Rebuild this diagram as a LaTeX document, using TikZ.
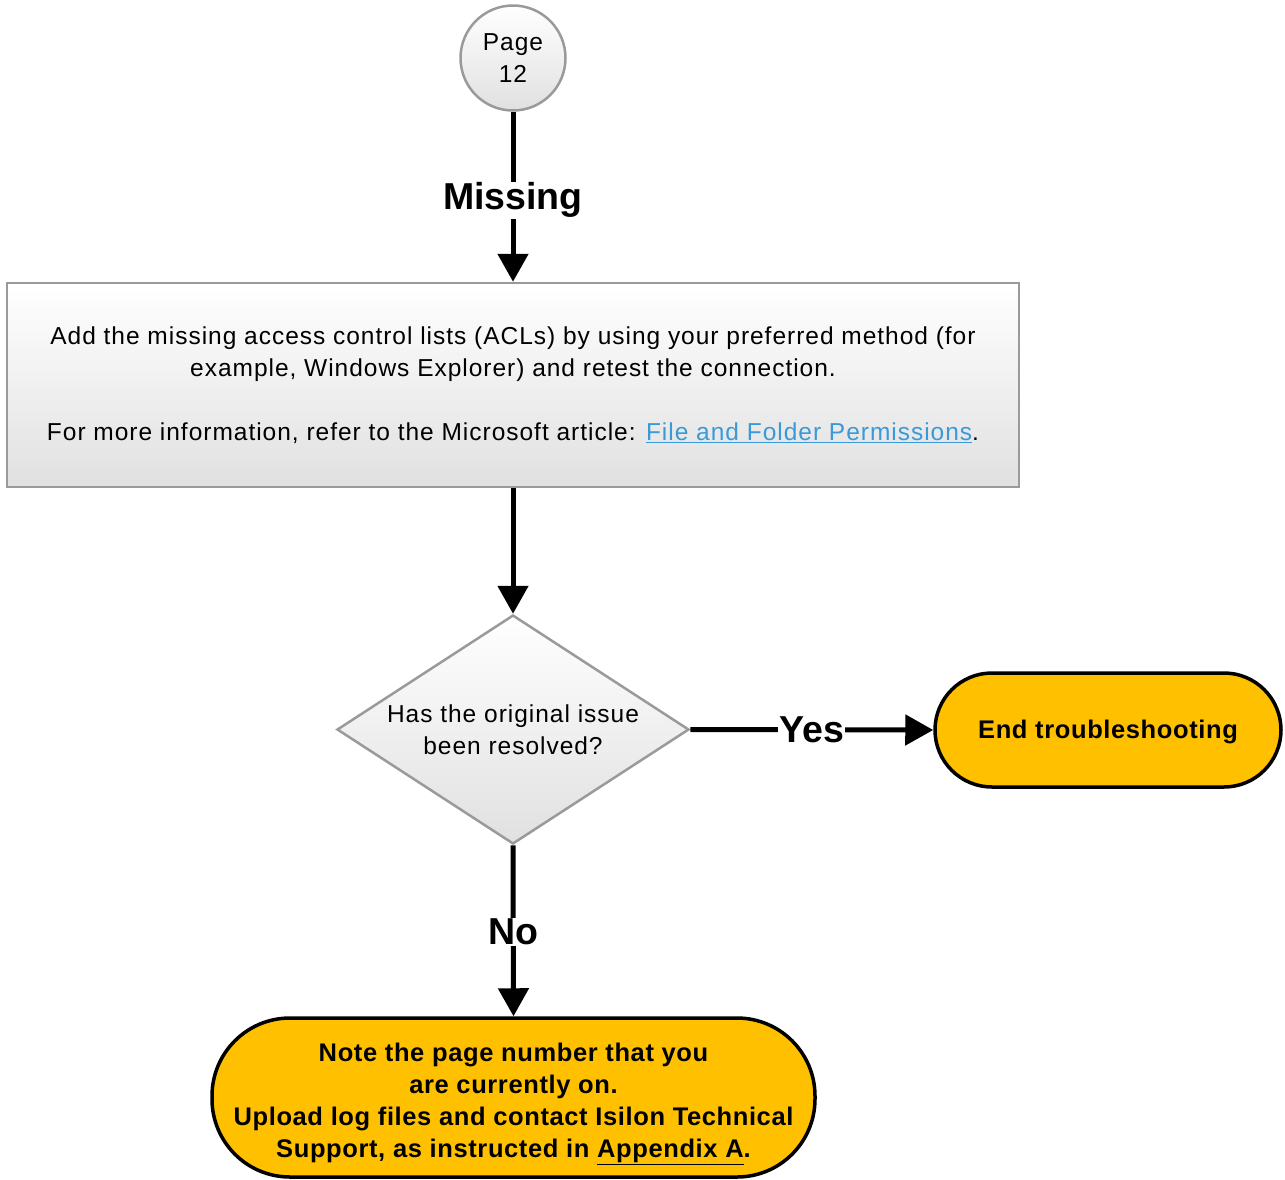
\documentclass[tikz,border=0pt]{standalone}
\usepackage{fontspec}
\setmainfont{Liberation Sans}
\usetikzlibrary{arrows.meta,shapes.geometric}
\definecolor{boxline}{HTML}{9A9A9A}
\definecolor{endfill}{HTML}{FFC000}
\definecolor{linkblue}{HTML}{3A9AD9}
\begin{document}
\begin{tikzpicture}[x=1pt,y=-1pt,
  graybox/.style={draw=boxline, line width=2.5pt, top color=white, bottom color=black!12},
  endbox/.style={draw=black, line width=3.5pt, fill=endfill, rounded corners=#1},
  flow/.style={line width=5pt, -{Triangle[length=28pt,width=30pt]}},
  flowlabel/.style={fill=white, inner sep=1pt, font=\fontsize{37.5}{40}\selectfont\bfseries},
  body/.style={font=\fontsize{24.5}{32}\selectfont\addfontfeature{LetterSpace=4}, align=center},
  boldbody/.style={font=\fontsize{25.5}{32}\selectfont\bfseries\addfontfeature{LetterSpace=2.4}, align=center}]
\useasboundingbox (0,0) rectangle (1285,1179);

% start connector circle
\node[graybox, circle, minimum size=105pt, inner sep=0pt, body] (page) at (513,58) {Page\\12};

% action box
\node[graybox, rectangle, minimum width=1012pt, minimum height=204pt, inner sep=0pt, body] (acl) at (513,385)
  {Add the missing access control lists (ACLs) by using your preferred method (for\\
   example, Windows Explorer) and retest the connection.\\[32pt]
   For more information, refer to the Microsoft article: \textcolor{linkblue}{\underline{File and Folder Permissions}}.};

% decision
\node[graybox, diamond, shape aspect=1.537, minimum width=352pt, minimum height=229pt, inner sep=0pt] (resolved) at (513,729.5) {};
\node[body] (question) at (513,730) {Has the original issue\\been resolved?};

% terminators
\node[endbox=57pt, minimum width=346pt, minimum height=114pt] (done) at (1108,730) {};
\node[boldbody] (donetext) at (1108,732) {End troubleshooting};
\node[endbox=78pt, minimum width=603pt, minimum height=159pt] (support) at (513.5,1097.5) {};
\node[boldbody] (supporttext) at (513.5,1104)
  {Note the page number that you\\
   are currently on.\\
   Upload log files and contact Isilon Technical\\
   Support, as instructed in \underline{Appendix A}.};

% connectors
\draw[flow] (page.south) -- node[flowlabel, pos=0.52] {Missing} (acl.north);
\draw[flow] (acl.south) -- (resolved.north);
\draw[flow] (resolved.east) -- node[flowlabel, pos=0.5] {Yes} (done.west);
\draw[flow] (resolved.south) -- node[flowlabel, pos=0.505] {No} (support.north);
\end{tikzpicture}
\end{document}
